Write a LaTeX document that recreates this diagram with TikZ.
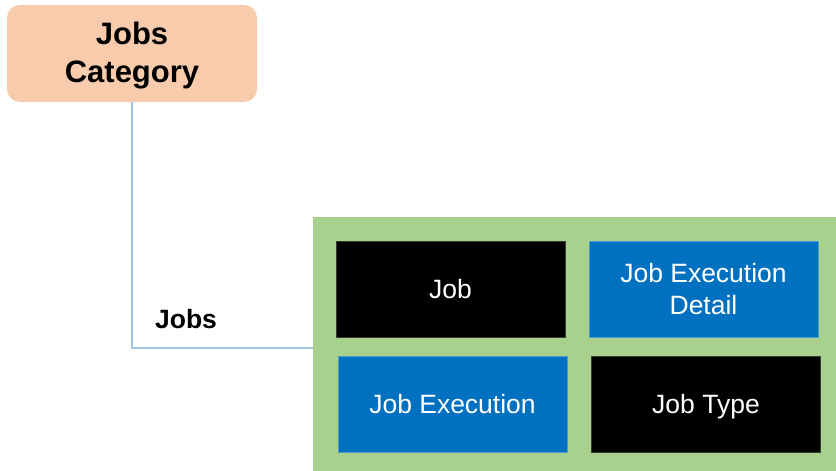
\documentclass[tikz,border=0pt]{standalone}
\usepackage{fontspec}
\setmainfont{Liberation Sans}
\definecolor{peach}{HTML}{F8CBAD}
\definecolor{leaf}{HTML}{A9D18E}
\definecolor{jobblue}{HTML}{0070C0}
\definecolor{linkblue}{HTML}{9DC3E6}
\begin{document}
\begin{tikzpicture}[x=1pt,y=-1pt,
  catbox/.style={fill=peach, draw=none, rounded corners=13pt, minimum width=250pt, minimum height=97pt, align=center, inner sep=0pt, font=\fontsize{31}{38}\selectfont\bfseries},
  greenbox/.style={fill=leaf, draw=none, minimum width=523pt, minimum height=254pt, inner sep=0pt},
  darkcell/.style={fill=black, draw=black!70!leaf, line width=0.5pt, minimum width=229pt, minimum height=96pt, inner sep=0pt, align=center, text=white, font=\fontsize{26.5}{32}\selectfont},
  bluecell/.style={fill=jobblue, draw=jobblue!70!white, line width=0.5pt, minimum width=229pt, minimum height=96pt, inner sep=0pt, align=center, text=white, font=\fontsize{26.5}{32}\selectfont},
  link/.style={draw=linkblue, line width=1.2pt},
  lbl/.style={font=\fontsize{26.5}{30}\selectfont\bfseries, inner sep=0pt}
]
\useasboundingbox (0,0) rectangle (836,471);
\node[catbox] (cat) at (132,53.5) {};
\node[font=\fontsize{31}{38}\selectfont\bfseries, align=center, inner sep=0pt] (cattext) at (132,56) {Jobs\\Category};
\node[greenbox] (green) at (574.5,344) {};
\node[darkcell] (job) at (450.5,289) {Job};
\node[bluecell] (jed) at (703.5,289) {Job Execution\\Detail};
\node[bluecell] (je) at (452.5,404) {Job Execution};
\node[darkcell] (jt) at (706,404) {};
\node[text=white, font=\fontsize{26.5}{32}\selectfont, inner sep=0pt] (jttext) at (706,407) {Job Type};
\draw[link] (cat.south) |- ([yshift=-4pt]green.west);
\node[lbl] (jobslbl) at (186,319) {Jobs};
\end{tikzpicture}
\end{document}
